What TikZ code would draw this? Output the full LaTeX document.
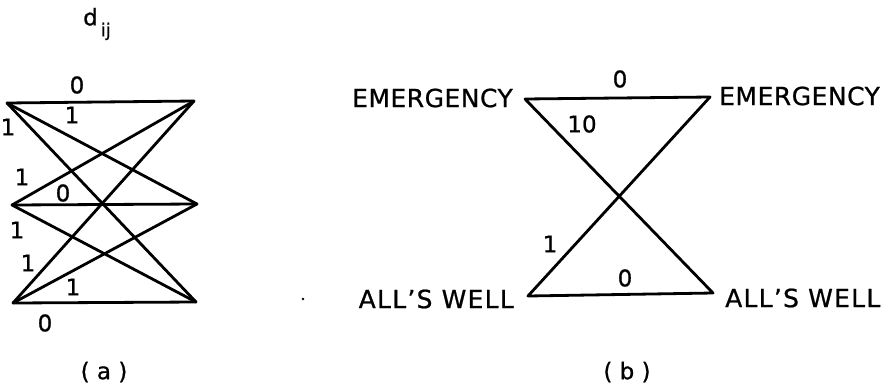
\documentclass[tikz,border=0pt]{standalone}
\usepackage{fontspec}
\setmainfont{DejaVu Sans}[FakeBold=0.8]
\newfontfamily\emfont{DejaVu Sans}[LetterSpace=2,FakeBold=0.8]
\newfontfamily\awfont{DejaVu Sans}[LetterSpace=5,FakeBold=0.8]
\newfontfamily\numfont{DejaVu Sans}[FakeBold=0.8]
\begin{document}
\begin{tikzpicture}[x=1pt,y=-1pt,
  edge/.style={line width=2.8pt,line join=round,line cap=round},
  emword/.style={font=\emfont\fontsize{25}{25}\selectfont,inner sep=0pt},
  awword/.style={font=\awfont\fontsize{25}{25}\selectfont,inner sep=0pt},
  num/.style={font=\numfont\fontsize{23}{23}\selectfont,inner sep=0pt},
  subcap/.style={font=\numfont\fontsize{23}{23}\selectfont,inner sep=0pt}]
\useasboundingbox (0,0) rectangle (896,389);
% (a)
\coordinate (tl) at (7,103);
\coordinate (tr) at (194,101);
\coordinate (ml) at (12,205);
\coordinate (mr) at (197,204);
\coordinate (bl) at (13,303);
\coordinate (br) at (196,302);
\foreach \a in {tl,ml,bl}{
  \foreach \b in {tr,mr,br}{
    \draw[edge] (\a) -- (\b);
  }
}
\node[num] (dij) at (97,24) {d\raisebox{-11pt}{\fontsize{18}{18}\selectfont\,ij}};
\node[num] (a1) at (77,85) {0};
\node[num] (a2) at (72,115) {1};
\node[num] (a3) at (8,127) {1};
\node[num] (a4) at (22,177) {1};
\node[num] (a5) at (63,193) {0};
\node[num] (a6) at (17,230) {1};
\node[num] (a7) at (28,263) {1};
\node[num] (a8) at (73,287) {1};
\node[num] (a9) at (45,323) {0};
\node[subcap] (capa) at (104,372) {( a )};
% (b)
\coordinate (el) at (525,99);
\coordinate (er) at (710,97);
\coordinate (al) at (528,296);
\coordinate (ar) at (713,293);
\draw[edge] (el) -- (er) -- (al) -- (ar) -- (el);
\node[emword,anchor=east] (emL) at (513,98) {EMERGENCY};
\node[emword,anchor=west] (emR) at (719,96) {EMERGENCY};
\node[awword,anchor=east] (awL) at (514,299) {ALL’S WELL};
\node[awword,anchor=west] (awR) at (725,298) {ALL’S WELL};
\node[num] (b1) at (620,79) {0};
\node[num] (b2) at (582,124) {10};
\node[num] (b3) at (550,244) {1};
\node[num] (b4) at (625,278) {0};
\node[subcap] (capb) at (627,372) {( b )};
\fill (303,299) circle (1.3);
\end{tikzpicture}
\end{document}
